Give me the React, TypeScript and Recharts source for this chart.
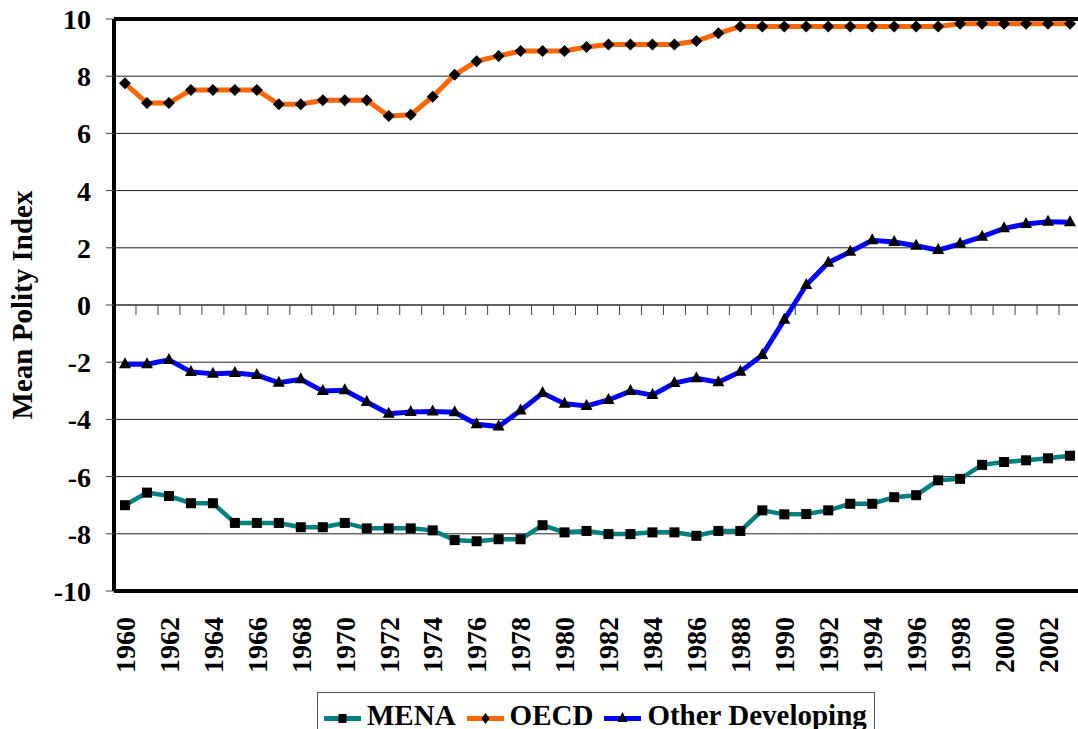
import React from "react";
import {
  LineChart,
  Line,
  XAxis,
  YAxis,
  CartesianGrid,
  Legend,
  ReferenceLine,
} from "recharts";

const years = [
  "1960", "1961", "1962", "1963", "1964", "1965", "1966", "1967", "1968", "1969",
  "1970", "1971", "1972", "1973", "1974", "1975", "1976", "1977", "1978", "1979",
  "1980", "1981", "1982", "1983", "1984", "1985", "1986", "1987", "1988", "1989",
  "1990", "1991", "1992", "1993", "1994", "1995", "1996", "1997", "1998", "1999",
  "2000", "2001", "2002", "2003",
];

const menaValues = [
  -7.0, -6.56, -6.68, -6.93, -6.93, -7.62, -7.62, -7.62, -7.77, -7.77,
  -7.62, -7.81, -7.81, -7.81, -7.88, -8.22, -8.26, -8.19, -8.19, -7.7,
  -7.95, -7.9, -8.01, -8.01, -7.95, -7.95, -8.07, -7.9, -7.9, -7.18,
  -7.32, -7.31, -7.18, -6.95, -6.95, -6.72, -6.65, -6.13, -6.08, -5.59,
  -5.49, -5.43, -5.36, -5.27,
];

const oecdValues = [
  7.75, 7.06, 7.06, 7.52, 7.52, 7.52, 7.52, 7.02, 7.02, 7.16,
  7.16, 7.16, 6.61, 6.65, 7.28, 8.05, 8.52, 8.71, 8.88, 8.88,
  8.88, 9.02, 9.11, 9.11, 9.11, 9.11, 9.23, 9.5, 9.74, 9.74,
  9.74, 9.74, 9.74, 9.74, 9.74, 9.74, 9.74, 9.74, 9.83, 9.83,
  9.83, 9.83, 9.83, 9.83,
];

const otherValues = [
  -2.07, -2.07, -1.92, -2.34, -2.4, -2.38, -2.45, -2.72, -2.6, -3.01,
  -2.98, -3.39, -3.8, -3.74, -3.72, -3.75, -4.17, -4.25, -3.69, -3.08,
  -3.45, -3.53, -3.32, -3.01, -3.15, -2.73, -2.56, -2.7, -2.33, -1.75,
  -0.52, 0.7, 1.48, 1.86, 2.26, 2.2, 2.07, 1.92, 2.14, 2.39,
  2.68, 2.83, 2.91, 2.89,
];

const yTicks = [-10, -8, -6, -4, -2, 0, 2, 4, 6, 8, 10];

const data = years.map((year, i) => ({
  year,
  mena: menaValues[i],
  oecd: oecdValues[i],
  other: otherValues[i],
}));

const FONT = '"Liberation Serif", "Times New Roman", Times, serif';

const SquareDot = (props: any) => {
  const { cx, cy } = props;
  if (cx == null || cy == null) return null;
  return <rect x={cx - 5} y={cy - 5} width={10} height={10} fill="#000" />;
};

const DiamondDot = (props: any) => {
  const { cx, cy } = props;
  if (cx == null || cy == null) return null;
  return (
    <polygon
      points={`${cx},${cy - 6} ${cx + 6},${cy} ${cx},${cy + 6} ${cx - 6},${cy}`}
      fill="#000"
    />
  );
};

const TriangleDot = (props: any) => {
  const { cx, cy } = props;
  if (cx == null || cy == null) return null;
  return (
    <polygon
      points={`${cx},${cy - 7} ${cx + 6},${cy + 4} ${cx - 6},${cy + 4}`}
      fill="#000"
    />
  );
};

// axe horizontal à zéro avec petites graduations entre les années
const renderZeroLine = (props: any) => {
  const { x1, y1, x2, y2 } = props;
  if (x1 == null || x2 == null) return <g />;
  const step = (x2 - x1) / years.length;
  return (
    <g>
      <line x1={x1} y1={y1} x2={x2} y2={y2} stroke="#333" strokeWidth={1} />
      {years.map((_, i) => (
        <line
          key={i}
          x1={x1 + step * (i + 1)}
          x2={x1 + step * (i + 1)}
          y1={y1}
          y2={y1 + 10}
          stroke="#444"
          strokeWidth={1}
        />
      ))}
    </g>
  );
};

const YearTick = ({ x, y, payload }: any) => (
  <g transform={`translate(${x},${y})`}>
    <text
      transform="rotate(-90)"
      textAnchor="end"
      dy="0.35em"
      fontFamily={FONT}
      fontWeight="bold"
      fontSize={28}
      fill="#000"
    >
      {payload.value}
    </text>
  </g>
);

const YTitle = ({ viewBox }: any) => {
  const cy = viewBox ? viewBox.y + viewBox.height / 2 : 305;
  return (
    <text
      x={22}
      y={cy}
      transform={`rotate(-90, 22, ${cy})`}
      textAnchor="middle"
      dominantBaseline="central"
      fontFamily={FONT}
      fontWeight="bold"
      fontSize={29}
      fill="#000"
    >
      Mean Polity Index
    </text>
  );
};

const legendMarkers: Record<string, (c: number) => React.ReactNode> = {
  mena: (c) => <rect x={c - 4} y={6} width={8} height={9} fill="#000" />,
  oecd: (c) => (
    <polygon points={`${c},${5} ${c + 4},${10.5} ${c},${16} ${c - 4},${10.5}`} fill="#000" />
  ),
  other: (c) => <polygon points={`${c},${4} ${c + 5},${14} ${c - 5},${14}`} fill="#000" />,
};

const CustomLegend = ({ payload }: any) => (
  <div
    style={{
      border: "1px solid #555",
      background: "#fff",
      display: "flex",
      alignItems: "center",
      padding: "6px 7px 10px 6px",
      fontFamily: FONT,
      fontWeight: "bold",
      fontSize: 29,
      lineHeight: "32px",
      whiteSpace: "nowrap",
    }}
  >
    {(payload || []).map((entry: any, index: number) => (
      <div
        key={index}
        style={{ display: "flex", alignItems: "center", marginRight: index < 2 ? 11 : 0 }}
      >
        <svg width={37} height={20} style={{ marginRight: 6, marginTop: 6 }}>
          <line x1={0} y1={10.5} x2={37} y2={10.5} stroke={entry.color} strokeWidth={5} />
          {legendMarkers[entry.dataKey]?.(18.5)}
        </svg>
        <span>{entry.value}</span>
      </div>
    ))}
  </div>
);

export default function App() {
  return (
    <div
      style={{
        position: "absolute",
        left: 0,
        top: 0,
        width: 1078,
        height: 729,
        overflow: "hidden",
        background: "#fff",
      }}
    >
      <LineChart
        width={1081}
        height={729}
        data={data}
        margin={{ top: 19, right: 0, left: 0, bottom: 0 }}
      >
        <CartesianGrid vertical={false} stroke="#222" strokeWidth={1} />
        <XAxis
          dataKey="year"
          interval={1}
          height={138}
          padding={{ left: 11, right: 11 }}
          axisLine={{ stroke: "#000", strokeWidth: 4 }}
          tickLine={false}
          tickSize={6}
          tickMargin={20}
          tick={<YearTick />}
        />
        <YAxis
          width={114}
          domain={[-10, 10]}
          ticks={yTicks}
          interval={0}
          axisLine={{ stroke: "#000", strokeWidth: 4 }}
          tickLine={{ stroke: "#444", strokeWidth: 1 }}
          tickSize={8}
          tickMargin={15}
          tick={{ fontFamily: FONT, fontWeight: "bold", fontSize: 28, fill: "#000" }}
          label={<YTitle />}
        />
        <ReferenceLine y={0} stroke="#333" shape={renderZeroLine} />
        <ReferenceLine y={10} stroke="#000" strokeWidth={4} />
        <Legend
          layout="horizontal"
          verticalAlign="middle"
          align="center"
          wrapperStyle={{ top: 692, left: 317, width: "auto" }}
          content={<CustomLegend />}
        />
        <Line
          type="linear"
          dataKey="mena"
          name="MENA"
          stroke="#008080"
          strokeWidth={4.5}
          dot={<SquareDot />}
          activeDot={false}
          isAnimationActive={false}
        />
        <Line
          type="linear"
          dataKey="oecd"
          name="OECD"
          stroke="#FF6600"
          strokeWidth={5}
          dot={<DiamondDot />}
          activeDot={false}
          isAnimationActive={false}
        />
        <Line
          type="linear"
          dataKey="other"
          name="Other Developing"
          stroke="#0000FF"
          strokeWidth={5}
          dot={<TriangleDot />}
          activeDot={false}
          isAnimationActive={false}
        />
      </LineChart>
    </div>
  );
}
